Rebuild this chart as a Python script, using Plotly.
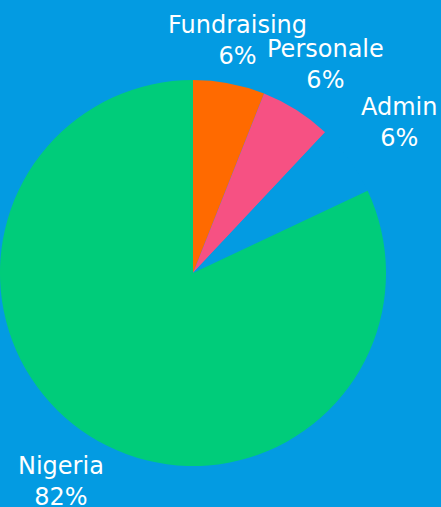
import math
import plotly.graph_objects as go

labels = ["Fundraising", "Personale", "Admin", "Nigeria"]
values = [6, 6, 6, 82]
colors = ["#FF6A00", "#F65183", "#039BE2", "#00CC7A"]

W, H = 441, 507
cx, cy, r = 193, 273, 193
FS = 24

fig = go.Figure(go.Pie(
    labels=labels,
    values=values,
    sort=False,
    direction="clockwise",
    rotation=0,
    marker=dict(colors=colors, line=dict(width=0)),
    textinfo="none",
    hoverinfo="skip",
    showlegend=False,
    domain=dict(x=[(cx - r) / W, (cx + r) / W], y=[1 - (cy + r) / H, 1 - (cy - r) / H]),
))

# labels placed at each slice's mid-angle, just outside the pie
total = sum(values)
cum = 0
for lab, v in zip(labels, values):
    mid = (cum + v / 2) / total * 2 * math.pi
    cum += v
    dist = r + 38 + 30 * abs(math.sin(mid))
    px = cx + dist * math.sin(mid)
    py = cy - dist * math.cos(mid)
    pct = round(v / total * 100)
    fig.add_annotation(
        x=px / W, y=1 - py / H, xref="paper", yref="paper",
        text=f"{lab}<br>{pct}%", showarrow=False,
        xanchor="center", yanchor="middle", align="center",
        font=dict(color="white", size=FS, family="DejaVu Sans"),
    )

fig.update_layout(
    width=W, height=H,
    margin=dict(l=0, r=0, t=0, b=0),
    paper_bgcolor="#039BE2",
    plot_bgcolor="#039BE2",
)

fig.write_html(
    "out.html",
    config={"displayModeBar": False},
    post_script="document.body.style.margin='0';document.body.style.background='#039BE2';",
)
